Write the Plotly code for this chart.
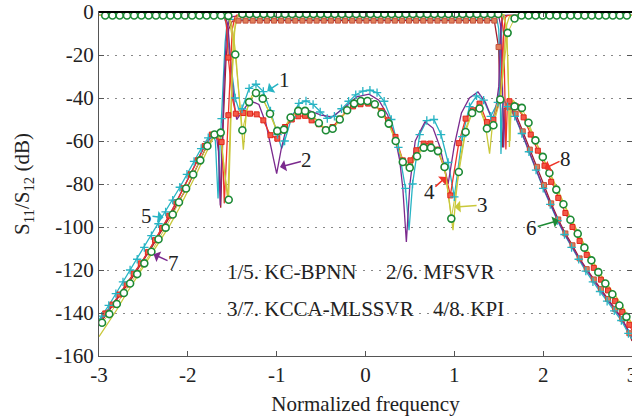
import plotly.graph_objects as go

# ---------------- data ----------------
X_TICKS = [-3, -2, -1, 0, 1, 2, 3]
X_TICK_TEXT = ["-3", "-2", "-1", "0", "1", "2", "3"]
Y_TICKS = [-160, -140, -120, -100, -80, -60, -40, -20, 0]
Y_TICK_TEXT = ["-160", "-140", "-120", "-100", "-80", "-60", "-40", "-20", "0"]

# Green circles (reference response) - S21, marker points
GRN_S21_MX = [-2.966, -2.884, -2.80, -2.72, -2.65, -2.57, -2.49, -2.41, -2.33, -2.25, -2.17, -2.10, -2.02,
              -1.94, -1.86, -1.78, -1.70, -1.63, -1.54,
              -1.386, -1.306, -1.226, -1.146, -1.066, -0.986, -0.906, -0.826, -0.746, -0.666, -0.586, -0.506,
              -0.426, -0.346, -0.266, -0.186, -0.106, -0.026, 0.054, 0.134, 0.214, 0.294, 0.374, 0.454, 0.534,
              0.614, 0.694, 0.774, 0.854, 0.934, 1.014, 1.094, 1.174, 1.254, 1.334, 1.414, 1.494,
              1.678, 1.76, 1.835, 1.913, 1.996, 2.07, 2.148, 2.228, 2.307, 2.389, 2.464, 2.543, 2.621, 2.70,
              2.779, 2.858, 2.937]
GRN_S21_MY = [-144.5, -140.5, -135.8, -130.7, -126.3, -121.9, -116.9, -111.5, -105.7, -100.3, -94.2, -88.5, -82.1,
              -75.6, -69.0, -62.3, -57.0, -56.1, -87.3,
              -0.9, -0.9, -0.9, -0.9, -0.9, -0.9, -0.9, -0.9, -0.9, -0.9, -0.9, -0.9,
              -0.9, -0.9, -0.9, -0.9, -0.9, -0.9, -0.9, -0.9, -0.9, -0.9, -0.9, -0.9, -0.9,
              -0.9, -0.9, -0.9, -0.9, -0.9, -0.9, -0.9, -0.9, -0.9, -0.9, -0.9, -0.9,
              -43.9, -44.6, -51.5, -59.7, -67.4, -74.9, -82.6, -89.4, -96.6, -103.1, -109.6, -115.5, -121.0, -126.3,
              -131.3, -136.5, -141.8]
GRN_S21_LX = [-3.0, -1.585, -1.50, -1.47, -1.44, 1.53, 1.575, 1.60, 1.615, 1.625, 1.64, 3.0]
GRN_S21_LY = [-146.0, -75.0, -30.0, -8.0, -2.0, -1.0, -5.0, -20.0, -45.0, -60.0, -46.0, -145.5]

# Green circles - S11
GRN_S11_MX = [-2.93, -2.848, -2.767, -2.685, -2.604, -2.522, -2.441, -2.359, -2.278, -2.196, -2.115, -2.033,
              -1.952, -1.870, -1.789, -1.707, -1.626, -1.544, -1.466,
              -1.386, -1.31, -1.233, -1.157, -1.075, -0.993, -0.918, -0.843, -0.757, -0.68, -0.607, -0.525,
              -0.446, -0.37, -0.29, -0.207, -0.128, -0.053, 0.022, 0.105, 0.18, 0.262, 0.34, 0.42, 0.498,
              0.58, 0.655, 0.737, 0.816, 0.89, 0.966, 1.05, 1.127, 1.20, 1.284, 1.367, 1.44, 1.517, 1.60,
              1.678, 1.757, 1.836, 1.915, 1.994, 2.073, 2.152, 2.231, 2.310, 2.389, 2.468, 2.547, 2.626,
              2.705, 2.784, 2.863, 2.942]
GRN_S11_MY = [-1.6, -1.6, -1.6, -1.6, -1.6, -1.6, -1.6, -1.6, -1.6, -1.6, -1.6, -1.6,
              -1.6, -1.6, -1.6, -1.6, -1.6, -1.8, -19.8,
              -55.0, -41.9, -37.7, -40.3, -47.3, -55.3, -54.7, -49.1, -46.0, -46.0, -48.0, -51.6,
              -55.0, -54.3, -50.0, -45.7, -42.6, -41.4, -41.4, -42.9, -47.3, -51.9, -60.0, -69.8, -72.4,
              -67.1, -63.1, -63.1, -64.7, -72.1, -96.1, -74.4, -55.8, -47.0, -44.9, -54.2, -52.7, -40.7, -9.7,
              -3.0, -1.6, -1.6, -1.6, -1.6, -1.6, -1.6, -1.6, -1.6, -1.6, -1.6, -1.6, -1.6,
              -1.6, -1.6, -1.6, -1.6]
GRN_S11_LX = [-3.0, 3.0]
GRN_S11_LY = [-1.6, -1.6]

# KCCA-MLSSVR (yellow line) - S11 and S21
YEL_S11_X = [-3.0, -1.55, -1.52, -1.49, -1.46, -1.42, -1.375, -1.34, -1.28, -1.23, -1.16, -1.08, -1.0, -0.93,
             -0.85, -0.76, -0.68, -0.6, -0.52, -0.44, -0.37, -0.29, -0.2, -0.12, -0.05, 0.02, 0.1, 0.18, 0.26,
             0.34, 0.42, 0.48, 0.56, 0.65, 0.74, 0.82, 0.89, 0.95, 0.985, 1.02, 1.06, 1.13, 1.2, 1.28, 1.34,
             1.397, 1.43, 1.48, 1.52, 1.56, 1.59, 1.62, 1.7, 3.0]
YEL_S11_Y = [-1.6, -1.6, -4.0, -10.0, -20.0, -40.0, -64.0, -46.0, -39.0, -37.3, -40.0, -47.0, -55.0, -55.0,
             -49.5, -46.0, -46.0, -48.0, -51.5, -55.0, -54.5, -50.0, -45.5, -42.5, -41.2, -41.2, -42.8, -47.0, -52.0,
             -60.0, -69.0, -72.0, -67.0, -62.5, -62.5, -65.0, -72.0, -90.0, -101.5, -85.0, -70.0, -54.0, -46.5, -44.0,
             -50.0, -65.9, -52.0, -43.0, -40.0, -20.0, -6.0, -2.0, -1.6, -1.6]
YEL_S21_X = [-3.0, -2.9, -2.8, -2.7, -2.6, -2.5, -2.4, -2.3, -2.2, -2.1, -2.0, -1.9, -1.8, -1.72, -1.66, -1.62,
             -1.585, -1.55, -1.52, -1.49, -1.46, -1.42, 1.56, 1.59, 1.61, 1.62, 1.635, 1.66, 1.70, 1.76, 1.835,
             1.913, 2.0, 2.1, 2.2, 2.3, 2.4, 2.5, 2.6, 2.7, 2.8, 2.9, 3.0]
YEL_S21_Y = [-151.0, -145.0, -138.5, -131.5, -125.0, -119.0, -112.5, -106.0, -99.0, -91.5, -83.5, -75.0, -66.0,
             -59.0, -57.0, -62.0, -75.0, -87.6, -50.0, -15.0, -3.0, -1.2, -1.2, -8.0, -35.0, -62.8, -45.0, -41.0,
             -43.0, -47.0, -53.0, -60.0, -68.0, -77.0, -86.0, -95.0, -103.0, -111.0, -119.0, -125.5, -131.0,
             -137.5, -145.0]

# MFSVR (purple line) - S11 and S21
PUR_S11_X = [-3.0, -1.58, -1.55, -1.52, -1.48, -1.45, -1.40, -1.33, -1.26, -1.2, -1.12, -1.05, -1.0, -0.95,
             -0.88, -0.8, -0.7, -0.626, -0.5, -0.38, -0.25, -0.1, 0.04, 0.15, 0.25, 0.33, 0.385, 0.42, 0.46,
             0.5, 0.56, 0.67, 0.76, 0.84, 0.93, 1.0, 1.08, 1.17, 1.266, 1.35, 1.43, 1.47, 1.50, 1.52, 1.54,
             1.58, 3.0]
PUR_S11_Y = [-1.6, -1.6, -6.0, -20.0, -42.0, -50.0, -47.0, -43.0, -41.9, -43.0, -52.0, -66.0, -75.2, -64.0,
             -52.0, -47.0, -45.5, -46.0, -48.0, -48.8, -45.0, -39.5, -38.2, -41.0, -48.0, -58.0, -69.0, -82.0,
             -107.0, -80.0, -60.0, -51.0, -54.0, -63.0, -80.0, -62.0, -47.0, -40.0, -37.2, -42.0, -50.4, -44.0,
             -34.6, -10.0, -2.0, -1.6, -1.6]
PUR_S21_X = [-3.0, -2.9, -2.8, -2.7, -2.6, -2.5, -2.4, -2.3, -2.2, -2.1, -2.0, -1.9, -1.8, -1.72, -1.68,
             -1.655, -1.635, -1.615, -1.59, -1.56, -1.52, -1.48, 1.50, 1.52, 1.54, 1.555, 1.57, 1.6, 1.68,
             1.76, 1.84, 1.92, 2.0, 2.08, 2.16, 2.24, 2.32, 2.4, 2.48, 2.56, 2.64, 2.72, 2.8, 2.88, 3.0]
PUR_S21_Y = [-144.0, -138.8, -133.3, -127.0, -121.1, -115.0, -108.3, -101.2, -94.0, -86.0, -78.0, -69.8,
             -61.5, -57.5, -57.0, -65.0, -90.0, -62.0, -30.0, -8.0, -2.5, -2.0, -2.0, -6.0, -30.0, -63.0, -46.0,
             -43.0, -48.0, -56.0, -64.5, -73.0, -81.5, -89.0, -96.5, -103.0, -109.0, -114.5, -119.5, -124.5,
             -129.0, -133.5, -138.0, -142.5, -151.0]

# KPI (red squares) - S11
RED_S11_MX = [-1.544, -1.46, -1.375, -1.30, -1.225, -1.15, -1.07, -0.993, -0.907, -0.83, -0.757, -0.68, -0.607,
              -0.525, -0.446, -0.37, -0.29, -0.213, -0.14, -0.056, 0.03, 0.105, 0.18, 0.254, 0.338, 0.42, 0.506,
              0.573, 0.655, 0.73, 0.81, 0.883, 0.955, 1.05, 1.127, 1.21, 1.284, 1.367, 1.44, 1.517]
RED_S11_MY = [-21.2, -47.3, -47.0, -47.3, -47.6, -50.4, -57.3, -58.9, -53.5, -50.0, -48.5, -48.3, -50.4,
              -52.2, -54.7, -53.5, -49.6, -46.0, -43.9, -42.9, -42.6, -43.4, -46.0, -50.4, -58.1, -69.0, -69.0,
              -64.3, -61.2, -61.2, -64.0, -72.1, -85.3, -61.0, -49.6, -45.7, -42.6, -51.2, -50.0, -40.7]
RED_S11_LX = [-3.0, -1.59, -1.565, -1.50, 0.463, 1.55, 1.575, 1.6, 3.0]
RED_S11_LY = [-1.6, -1.6, -6.0, -40.0, -72.0, -12.0, -2.5, -1.6, -1.6]

# KPI (red squares) - S21
RED_S21_MX = [-2.93, -2.85, -2.77, -2.69, -2.61, -2.53, -2.45, -2.37, -2.29, -2.21, -2.13, -2.05, -1.97, -1.89,
              -1.81, -1.73, -1.62, -1.544,
              1.62, 1.70, 1.78, 1.86, 1.94, 2.015, 2.09, 2.17, 2.25, 2.33, 2.41, 2.49, 2.57, 2.65, 2.73, 2.81,
              2.89, 2.97]
RED_S21_MY = [-140.2, -136.1, -131.4, -126.7, -121.6, -116.9, -111.7, -106.1, -100.5, -94.7, -88.5, -82.0,
              -75.5, -69.0, -62.3, -57.0, -60.5, -48.0,
              -41.5, -44.0, -49.0, -57.0, -64.5, -71.5, -79.0, -86.5, -93.5, -100.0, -106.5, -113.0, -119.0,
              -124.5, -129.5, -134.5, -139.5, -145.5]
RED_S21_LX = [-3.0, -1.60, -1.59, -1.57, -1.52, -1.50, -1.47, -1.45, 1.53, 1.555, 1.57, 1.58, 1.595, 3.0]
RED_S21_LY = [-145.0, -75.0, -89.0, -72.0, -22.0, -8.0, -2.5, -1.5, -1.5, -10.0, -40.0, -64.0, -45.0, -148.0]

# KPI second S21 branch (brownish squares, dark red line)
BRN_S21_MX = [-1.43, -1.35, -1.27, -1.19, -1.11, -1.03, -0.95, -0.87, -0.79, -0.71, -0.63, -0.55, -0.47,
              -0.39, -0.31, -0.23, -0.15, -0.07, 0.01, 0.09, 0.17, 0.25, 0.33, 0.41, 0.49, 0.57, 0.65, 0.73,
              0.81, 0.89, 0.97, 1.05, 1.13, 1.21, 1.29, 1.37, 1.45, 1.498,
              1.61, 1.69, 1.77, 1.85, 1.93, 2.01, 2.09, 2.17, 2.25, 2.33, 2.41, 2.49, 2.57, 2.65, 2.73, 2.81,
              2.89, 2.97]
BRN_S21_MY = [-4.0, -4.0, -4.0, -4.0, -4.0, -4.0, -4.0, -4.0, -4.0, -4.0, -4.0, -4.0, -4.0,
              -4.0, -4.0, -4.0, -4.0, -4.0, -4.0, -4.0, -4.0, -4.0, -4.0, -4.0, -4.0, -4.0, -4.0, -4.0,
              -4.0, -4.0, -4.0, -4.0, -4.0, -4.0, -4.0, -4.0, -4.0, -16.3,
              -44.0, -47.3, -55.5, -64.0, -72.0, -80.5, -89.0, -96.5, -103.0, -108.5, -114.6, -119.6, -124.4,
              -128.9, -133.5, -138.1, -142.7, -149.4]
BRN_S21_LX = [-3.0, -2.8, -2.6, -2.4, -2.2, -2.0, -1.8, -1.7, -1.66, -1.645, -1.63, -1.615, -1.60, -1.57,
              -1.54, -1.50, 1.515, 1.54, 1.56, 3.0]
BRN_S21_LY = [-145.5, -134.0, -122.0, -109.0, -95.0, -81.0, -63.5, -57.5, -58.0, -70.0, -91.0, -70.0, -50.0,
              -22.0, -8.0, -4.2, -40.0, -63.0, -45.0, -153.0]

# KC-BPNN (cyan crosses) - S21
CYN_S21_MX = [-2.97, -2.89, -2.81, -2.73, -2.65, -2.57, -2.49, -2.41, -2.33, -2.25, -2.17, -2.09, -2.01,
              -1.93, -1.85, -1.77, -1.62,
              1.60, 1.68, 1.76, 1.84, 1.92, 2.0, 2.08, 2.16, 2.24, 2.32, 2.4, 2.48, 2.56, 2.64, 2.72, 2.8,
              2.88, 2.96]
CYN_S21_MY = [-141.5, -136.5, -131.0, -125.5, -120.0, -115.0, -109.5, -104.0, -98.5, -93.0, -87.5, -81.5,
              -75.5, -69.5, -63.5, -58.5, -49.6,
              -44.0, -48.5, -56.5, -65.0, -73.5, -82.0, -89.5, -97.0, -103.5, -109.5, -115.0, -120.5, -125.5,
              -130.0, -134.5, -139.0, -143.5, -149.5]
CYN_S21_LX = [-3.0, -1.72, -1.69, -1.66, -1.64, -1.60, -1.58, -1.56, -1.53, 1.48, 1.50, 1.515, 1.525, 1.54,
              1.56, 3.0]
CYN_S21_LY = [-143.0, -57.0, -60.0, -86.7, -65.0, -30.0, -14.0, -6.0, -3.4, -3.4, -8.0, -30.0, -66.0, -45.0,
              -41.0, -152.0]

# KC-BPNN (cyan crosses) - S11
CYN_S11_MX = [-1.467, -1.39, -1.31, -1.233, -1.15, -1.07, -0.99, -0.91, -0.83, -0.75, -0.67, -0.59, -0.51,
              -0.43, -0.35, -0.27, -0.19, -0.11, -0.03, 0.05, 0.13, 0.21, 0.29, 0.37, 0.45, 0.53, 0.61, 0.69,
              0.77, 0.85, 0.93, 1.0, 1.09, 1.17, 1.25, 1.33, 1.41, 1.49]
CYN_S11_MY = [-40.0, -45.0, -35.5, -33.6, -37.0, -46.0, -57.0, -60.0, -49.0, -42.5, -41.4, -43.0, -46.5,
              -49.5, -48.5, -45.0, -41.5, -38.5, -36.8, -36.4, -37.5, -41.5, -50.0, -63.0, -82.0, -80.0, -57.0,
              -50.5, -50.0, -57.0, -70.0, -86.0, -58.0, -44.0, -39.0, -41.0, -48.5, -42.0]
CYN_S11_LX = [-3.0, -1.6, -1.57, -1.53, -1.42, -0.944, 0.49, 1.51, 1.525, 1.54, 1.57, 3.0]
CYN_S11_LY = [-1.6, -1.6, -5.0, -20.0, -46.0, -63.5, -101.5, -35.0, -15.0, -3.0, -1.6, -1.6]

# Method legend text and curve labels
LEGEND_TEXT = ["1/5. KC-BPNN", "2/6. MFSVR", "3/7. KCCA-MLSSVR", "4/8. KPI"]
LEGEND_X = [-1.58, 0.206, -1.58, 0.742]
LEGEND_Y = [-121.0, -121.0, -138.3, -138.3]
LABELS = ["1", "2", "3", "4", "5", "6", "7", "8"]
LABEL_TIP_X = [-1.106, -0.963, 1.003, 0.91, -2.274, 2.175, -2.386, 2.015]
LABEL_TIP_Y = [-36.7, -72.1, -90.7, -76.7, -95.6, -96.9, -112.7, -72.8]

# ---------------- styles ----------------
C_CYAN = "#27b4c4"
C_PURPLE = "#7b2a8e"
C_YELLOW = "#c9c83a"
C_RED = "#ee3428"
C_GREEN = "#1d8a35"
LABEL_COLORS = [C_CYAN, C_PURPLE, C_YELLOW, C_RED, C_CYAN, C_GREEN, C_PURPLE, C_RED]
LABEL_OFFSETS = [(17, -11), (27, -7), (28, -2), (-17, 15), (-17, -2), (-27, 8), (20, 9), (21, -10)]

FONT = "Liberation Serif, Times New Roman, serif"

fig = go.Figure()


def merged(mx, my, lx, ly):
    pts = sorted(list(zip(mx, my)) + list(zip(lx, ly)))
    return [p[0] for p in pts], [p[1] for p in pts]


def add_line(x, y, color, width=1.3):
    fig.add_trace(go.Scatter(x=x, y=y, mode="lines", line=dict(color=color, width=width),
                             hoverinfo="skip", showlegend=False))


def add_markers(x, y, marker):
    fig.add_trace(go.Scatter(x=x, y=y, mode="markers", marker=marker, hoverinfo="skip", showlegend=False))


# lines
add_line(*merged(BRN_S21_MX, BRN_S21_MY, BRN_S21_LX, BRN_S21_LY), "#a0202e")
add_line(*merged(CYN_S21_MX, CYN_S21_MY, CYN_S21_LX, CYN_S21_LY), C_CYAN)
add_line(*merged(CYN_S11_MX, CYN_S11_MY, CYN_S11_LX, CYN_S11_LY), C_CYAN)
add_line(PUR_S21_X, PUR_S21_Y, C_PURPLE)
add_line(PUR_S11_X, PUR_S11_Y, C_PURPLE)
add_line(*merged(RED_S21_MX, RED_S21_MY, RED_S21_LX, RED_S21_LY), C_RED)
add_line(*merged(RED_S11_MX, RED_S11_MY, RED_S11_LX, RED_S11_LY), C_RED)
add_line(YEL_S21_X, YEL_S21_Y, C_YELLOW)
add_line(YEL_S11_X, YEL_S11_Y, C_YELLOW)
add_line(*merged(GRN_S21_MX, GRN_S21_MY, GRN_S21_LX, GRN_S21_LY), C_YELLOW, 1.0)
add_line(*merged(GRN_S11_MX, GRN_S11_MY, GRN_S11_LX, GRN_S11_LY), C_YELLOW, 1.0)

# markers
sq_brown = dict(symbol="square", size=5, color="#e0805c", line=dict(color="#c4503a", width=1))
sq_red = dict(symbol="square", size=5, color="#f45a48", line=dict(color="#e0261c", width=1))
cross_cyan = dict(symbol="cross-thin", size=6, line=dict(color=C_CYAN, width=1.3))
circ_green = dict(symbol="circle", size=7, color="white", line=dict(color=C_GREEN, width=1.6))
add_markers(BRN_S21_MX, BRN_S21_MY, sq_brown)
add_markers(RED_S21_MX, RED_S21_MY, sq_red)
add_markers(RED_S11_MX, RED_S11_MY, sq_red)
add_markers(CYN_S21_MX, CYN_S21_MY, cross_cyan)
add_markers(CYN_S11_MX, CYN_S11_MY, cross_cyan)
add_markers(GRN_S21_MX, GRN_S21_MY, circ_green)
add_markers(GRN_S11_MX, GRN_S11_MY, circ_green)

annotations = []
for t, x, y in zip(LEGEND_TEXT, LEGEND_X, LEGEND_Y):
    annotations.append(dict(x=x, y=y, xref="x", yref="y", text=t, showarrow=False, xanchor="left",
                            yanchor="middle", font=dict(family=FONT, size=21, color="#222")))
for t, x, y, c, (ax, ay) in zip(LABELS, LABEL_TIP_X, LABEL_TIP_Y, LABEL_COLORS, LABEL_OFFSETS):
    annotations.append(dict(x=x, y=y, xref="x", yref="y", text=t, showarrow=True, ax=ax, ay=ay,
                            arrowhead=1, arrowsize=1.3, arrowwidth=1.5, arrowcolor=c, standoff=0,
                            borderpad=0, font=dict(family=FONT, size=21, color="#222")))

axis_common = dict(showline=True, linecolor="#555", linewidth=1, mirror="ticks", ticks="inside",
                   ticklen=5, tickcolor="#555", zeroline=False, automargin=False,
                   ticklabeloverflow="allow",
                   tickfont=dict(family=FONT, size=21, color="#222"))

fig.update_layout(
    width=632, height=419,
    margin=dict(l=99, r=0, t=12, b=63),
    paper_bgcolor="white", plot_bgcolor="white",
    showlegend=False,
    annotations=annotations,
    xaxis=dict(range=[-3, 3], tickvals=X_TICKS, ticktext=X_TICK_TEXT, showgrid=False,
               title=dict(text="Normalized frequency", font=dict(family=FONT, size=21, color="#222"),
                          standoff=10),
               **axis_common),
    yaxis=dict(range=[-160, 0], tickvals=Y_TICKS, ticktext=Y_TICK_TEXT, showgrid=True,
               gridcolor="#888", gridwidth=1.3, griddash="2px,6px",
               title=dict(text="S<sub>11</sub>/S<sub>12</sub> (dB)",
                          font=dict(family=FONT, size=21, color="#222"), standoff=19),
               **axis_common),
    shapes=[dict(type="line", xref="paper", yref="paper", x0=0, x1=1, y0=1, y1=1,
                 line=dict(color="black", width=2))],
)

# remove the default page margin so the figure fills the 632x419 window exactly
fig.write_html("out.html", config={"displayModeBar": False},
               post_script="document.body.style.margin='0px';")
